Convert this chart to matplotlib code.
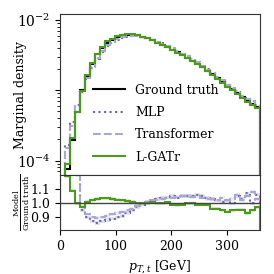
import numpy as np
import matplotlib
matplotlib.use("Agg")
import matplotlib.pyplot as plt

plt.rcParams["font.family"] = "DejaVu Serif"
plt.rcParams["mathtext.fontset"] = "dejavuserif"
plt.rcParams["font.size"] = 9

# 40 bins of 9 GeV between 0 and 360
bin_edges = np.arange(0, 361, 9)

# log10 of the ground-truth density per bin
truth_log = [-4.8, -4.12, -3.71, -3.31, -3.00, -2.79, -2.62, -2.49, -2.40, -2.32,
             -2.28, -2.24, -2.22, -2.21, -2.21, -2.22, -2.24, -2.26, -2.29, -2.32,
             -2.35, -2.38, -2.42, -2.46, -2.50, -2.54, -2.58, -2.62, -2.67, -2.72,
             -2.77, -2.82, -2.87, -2.93, -2.98, -3.04, -3.09, -3.14, -3.19, -3.24]

# model / ground truth per bin
ratio_mlp = [2.0, 2.2, 1.8, 1.25, 0.95, 0.90, 0.87, 0.86, 0.87, 0.88,
             0.89, 0.90, 0.91, 0.93, 0.95, 0.97, 0.99, 1.01, 1.02, 1.03,
             1.04, 1.04, 1.05, 1.04, 1.05, 1.05, 1.05, 1.06, 1.05, 1.04,
             1.03, 1.02, 1.01, 1.02, 1.00, 1.05, 1.03, 1.07, 1.00, 1.06]
ratio_transformer = [2.0, 2.0, 1.6, 1.2, 0.97, 0.92, 0.90, 0.895, 0.90, 0.91,
                     0.92, 0.93, 0.94, 0.95, 0.96, 0.98, 1.00, 1.01, 1.02, 1.025,
                     1.03, 1.04, 1.04, 1.045, 1.05, 1.05, 1.045, 1.05, 1.04, 1.03,
                     1.03, 1.02, 1.04, 1.02, 1.03, 1.06, 1.02, 1.05, 1.08, 1.03]
ratio_lgatr = [1.5, 1.19, 1.09, 1.00, 0.975, 1.01, 1.02, 1.03, 1.035, 1.035,
               1.03, 1.025, 1.02, 1.015, 1.01, 1.00, 1.00, 1.00, 1.005, 1.00,
               1.00, 1.005, 0.99, 0.985, 0.99, 1.00, 1.00, 0.99, 0.99, 0.99,
               0.96, 0.96, 0.95, 0.94, 0.95, 0.955, 0.955, 0.93, 0.95, 0.97]

truth = 10 ** np.array(truth_log)
models = [
    ("MLP", np.array(ratio_mlp), "#6f66a8", ":"),
    ("Transformer", np.array(ratio_transformer), "#aaa6d6", "--"),
    ("L-GATr", np.array(ratio_lgatr), "#4b9a1c", "-"),
]

fig = plt.figure(figsize=(2.74, 2.74), dpi=100)
ax = fig.add_axes([0.219, 0.361, 0.730, 0.588])
axr = fig.add_axes([0.219, 0.161, 0.730, 0.200], sharex=ax)

ax.stairs(truth, bin_edges, color="black", lw=1.5, label="Ground truth")
for name, r, c, ls in models:
    ax.stairs(truth * r, bin_edges, color=c, lw=1.5, ls=ls, label=name)

ax.set_yscale("log")
ax.set_ylim(6.2e-5, 1.22e-2)
ax.set_xlim(0, 360)
ax.set_yticks([1e-4, 1e-3, 1e-2])
ax.set_yticklabels([r"$10^{-4}$", "", r"$10^{-2}$"], fontsize=10)
ax.set_ylabel("Marginal density")
ax.yaxis.set_label_coords(-0.165, 0.5)
ax.tick_params(axis="x", bottom=False, labelbottom=False)
ax.legend(loc="lower right", frameon=False, handlelength=2.6,
          labelspacing=0.75, bbox_to_anchor=(0.85, 0.0))

axr.axhline(1.0, color="#444444", lw=1.0)
for name, r, c, ls in models:
    axr.stairs(r, bin_edges, color=c, lw=1.5, ls=ls)
    axr.stairs(r + 0.012, bin_edges, baseline=r - 0.012, fill=True,
               color=c, alpha=0.2, lw=0)
axr.set_ylim(0.81, 1.2)
axr.set_yticks([0.9, 1.0, 1.1])
axr.set_xticks([0, 100, 200, 300])
axr.set_xlabel(r"$p_{T,t}$ [GeV]")
axr.set_ylabel(r"$\frac{\mathrm{Model}}{\mathrm{Ground\ truth}}$", fontsize=8.5)
axr.yaxis.set_label_coords(-0.14, 0.5)

for a in (ax, axr):
    for s in a.spines.values():
        s.set_color("#333333")

fig.savefig("out.png", dpi=100)
